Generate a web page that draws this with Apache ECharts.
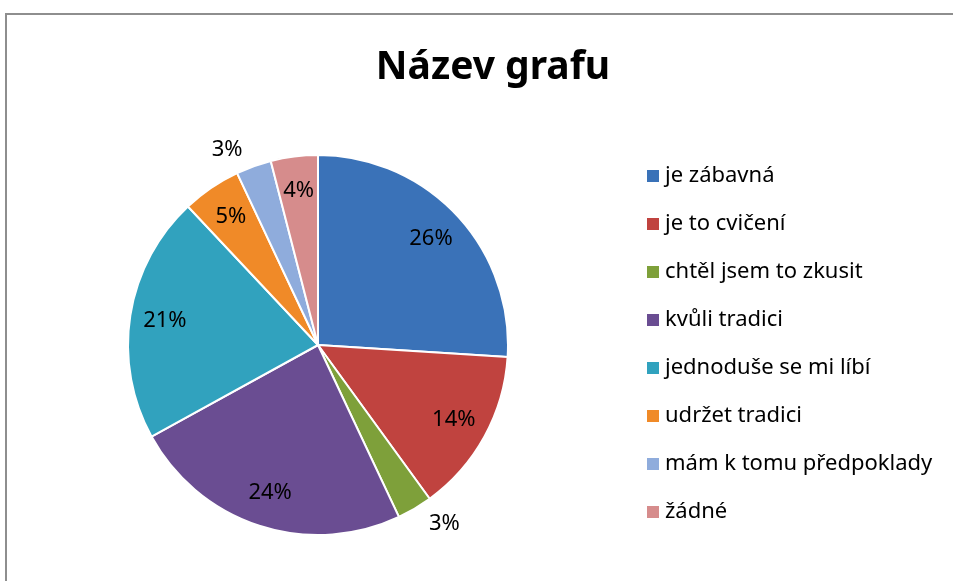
<!DOCTYPE html>
<html>
<head>
<meta charset="utf-8">
<title>Název grafu</title>
<script src="https://cdn.jsdelivr.net/npm/echarts@6/dist/echarts.min.js"></script>
<style>
	html, body { margin: 0; padding: 0; background: #fff; overflow: hidden; }
	#frame { position: absolute; left: 5px; top: 13px; width: 1200px; height: 900px; border: 2px solid #8e8e8e; }
	#main { position: absolute; left: 0; top: 0; width: 953px; height: 581px; }
</style>
</head>
<body>
<div id="frame"></div>
<div id="main"></div>
<script type="text/javascript">
	// data
	var categories = ['je zábavná', 'je to cvičení', 'chtěl jsem to zkusit', 'kvůli tradici',
		'jednoduše se mi líbí', 'udržet tradici', 'mám k tomu předpoklady', 'žádné'];
	var values = [26, 14, 3, 24, 21, 5, 3, 4];
	var colors = ['#3a72b8', '#c0433f', '#7ea03a', '#6a4d92', '#31a2be', '#f08a28', '#8facdc', '#d68c8c'];
	// slices whose label sits outside the pie (the small 3% ones)
	var outsideLabels = [2, 6];

	var myChart = echarts.init(document.getElementById('main'));

	var pieData = categories.map(function (name, i) {
		var item = { name: name, value: values[i], itemStyle: { color: colors[i] } };
		if (outsideLabels.indexOf(i) >= 0) {
			item.label = { show: true, position: 'outside' };
			item.labelLine = { show: false, length: 18, length2: 0 };
		}
		return item;
	});

	// transparent copy used only to place the inner labels further out
	var labelData = categories.map(function (name, i) {
		return {
			name: name, value: values[i],
			label: { show: outsideLabels.indexOf(i) < 0 }
		};
	});

	var font = '"Noto Sans", "DejaVu Sans", sans-serif';

	var option = {
		animation: false,
		title: {
			text: 'Název grafu',
			left: 488,
			textAlign: 'center',
			top: 43,
			textStyle: { fontFamily: font, fontSize: 39, fontWeight: 'bold', color: '#000' }
		},
		legend: {
			orient: 'vertical',
			left: 640,
			top: 160,
			itemWidth: 14,
			itemHeight: 14,
			itemGap: 26,
			icon: 'rect',
			selectedMode: false,
			textStyle: { fontFamily: font, fontSize: 22, color: '#000' },
			data: categories
		},
		series: [{
			name: 'Název grafu',
			type: 'pie',
			center: [318, 345],
			radius: [0, 190],
			startAngle: 90,
			clockwise: true,
			silent: true,
			itemStyle: { borderColor: '#fff', borderWidth: 2 },
			label: {
				show: false,
				formatter: '{d}%',
				fontFamily: font, fontSize: 22, color: '#000'
			},
			labelLine: { show: false },
			data: pieData
		}, {
			name: 'labels',
			type: 'pie',
			center: [318, 345],
			radius: [114, 190],
			startAngle: 90,
			clockwise: true,
			silent: true,
			itemStyle: { color: 'rgba(0,0,0,0)' },
			label: {
				position: 'inside',
				formatter: '{d}%',
				fontFamily: font, fontSize: 22, color: '#000'
			},
			labelLine: { show: false },
			data: labelData
		}]
	};

	myChart.setOption(option);
</script>
</body>
</html>
